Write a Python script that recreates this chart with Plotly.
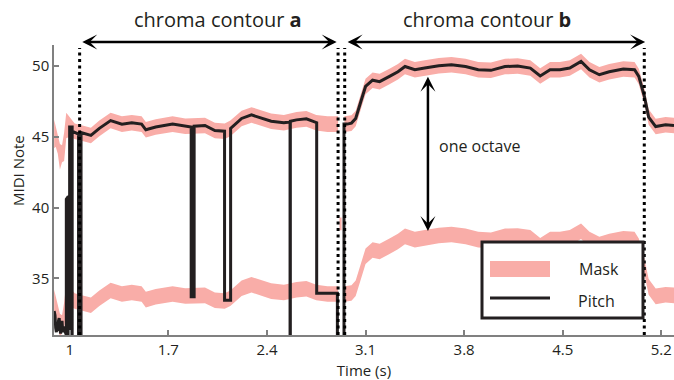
import plotly.graph_objects as go

# ---------------- data ----------------
# Pitch contour (time in s, MIDI note); repeated times draw the octave drops
pitch_t = [0.889, 0.895, 0.900, 0.905, 0.910, 0.915, 0.920, 0.925, 0.930, 0.935,
           0.940, 0.945, 0.950, 0.958, 0.965, 0.9755, 0.9755, 0.9895, 0.9895, 0.999,
           0.999, 1.017, 1.017, 1.017, 1.062, 1.062, 1.080, 1.080, 1.15, 1.21,
           1.29, 1.37, 1.44, 1.51, 1.54, 1.61, 1.73, 1.82, 1.862, 1.862,
           1.883, 1.883, 1.96, 2.03, 2.099, 2.099, 2.142, 2.142, 2.22, 2.29,
           2.36, 2.43, 2.52, 2.564, 2.564, 2.566, 2.566, 2.61, 2.68, 2.753,
           2.753, 2.900, 2.900, 2.947, 2.947, 2.97, 3.00, 3.03, 3.07, 3.10,
           3.15, 3.20, 3.27, 3.33, 3.38, 3.45, 3.52, 3.62, 3.71, 3.81,
           3.90, 3.99, 4.09, 4.18, 4.27, 4.34, 4.41, 4.48, 4.55, 4.63,
           4.69, 4.76, 4.83, 4.93, 5.01, 5.04, 5.08, 5.11, 5.16, 5.23, 5.29]
pitch_v = [32.7, 32.4, 31.5, 31.2, 31.8, 31.3, 32.0, 32.2, 31.4, 31.1,
           31.7, 32.0, 31.2, 31.6, 31.3, 31.0, 40.6, 40.8, 30.5, 30.5,
           45.7, 45.7, 30.5, 45.4, 45.2, 30.5, 30.5, 45.3, 45.1, 45.6,
           46.15, 45.9, 46.0, 45.9, 45.5, 45.7, 45.9, 45.75, 45.7, 33.7,
           33.7, 45.75, 45.8, 45.45, 45.4, 33.45, 33.45, 45.6, 46.3, 46.55,
           46.3, 46.1, 46.0, 46.05, 30.0, 30.0, 46.1, 46.2, 46.27, 46.0,
           33.95, 33.95, 30.0, 30.0, 45.9, 45.9, 45.97, 46.3, 47.6, 48.56,
           49.0, 48.9, 49.27, 49.6, 49.97, 49.74, 49.86, 50.03, 50.1, 49.97,
           49.74, 49.7, 49.97, 50.0, 49.86, 49.3, 49.74, 49.74, 49.86, 50.33,
           49.74, 49.39, 49.6, 49.8, 49.74, 49.27, 47.85, 46.4, 45.73, 45.85, 45.8]

# Chroma mask (upper band centre and half width); the band repeats one octave lower
mask_a_t = [0.889, 0.900, 0.915, 0.930, 0.945, 0.960, 0.975, 1.000, 1.035, 1.07,
            1.15, 1.21, 1.29, 1.37, 1.44, 1.51, 1.54, 1.61, 1.73, 1.82,
            1.96, 2.03, 2.10, 2.14, 2.22, 2.29, 2.36, 2.43, 2.52, 2.61,
            2.68, 2.75, 2.83, 2.905]
mask_a_c = [45.2, 45.0, 44.5, 43.6, 43.8, 44.3, 45.8, 45.7, 45.4, 45.3,
            45.1, 45.6, 46.15, 45.9, 46.0, 45.9, 45.5, 45.7, 45.9, 45.75,
            45.8, 45.45, 45.4, 45.6, 46.3, 46.55, 46.3, 46.1, 46.0, 46.2,
            46.27, 46.0, 45.9, 45.9]
mask_a_w = [1.0, 0.7, 0.7, 0.9, 0.6, 1.0, 0.9, 0.7, 0.55, 0.55,
            0.55, 0.55, 0.55, 0.55, 0.55, 0.55, 0.55, 0.55, 0.55, 0.55,
            0.55, 0.55, 0.55, 0.55, 0.55, 0.55, 0.55, 0.55, 0.55, 0.55,
            0.55, 0.55, 0.55, 0.55]
mask_b_t = [2.95, 3.00, 3.03, 3.07, 3.10, 3.15, 3.20, 3.27, 3.33, 3.38,
            3.45, 3.52, 3.62, 3.71, 3.81, 3.90, 3.99, 4.09, 4.18, 4.27,
            4.34, 4.41, 4.48, 4.55, 4.63, 4.69, 4.76, 4.83, 4.93, 5.01,
            5.04, 5.08, 5.11, 5.16, 5.23, 5.29]
mask_b_c = [45.9, 45.97, 46.3, 47.6, 48.56, 49.0, 48.9, 49.27, 49.6, 49.97,
            49.74, 49.86, 50.03, 50.1, 49.97, 49.74, 49.7, 49.97, 50.0, 49.86,
            49.3, 49.74, 49.74, 49.86, 50.33, 49.74, 49.39, 49.6, 49.8, 49.74,
            49.27, 47.85, 46.4, 45.73, 45.85, 45.8]
mask_b_w = 0.55
octave = 12
blob_t = [2.915, 2.93]
blob_lo = [38.4, 38.4]
blob_hi = [39.3, 39.3]

boundaries = [1.07, 2.905, 2.952, 5.079]
contour_a = [1.078, 2.895]
contour_b = [2.962, 5.085]
octave_arrow_t = 3.543
octave_arrow_v = [49.25, 38.25]

x_ticks = [1, 1.7, 2.4, 3.1, 3.8, 4.5, 5.2]
x_tick_labels = ["1", "1.7", "2.4", "3.1", "3.8", "4.5", "5.2"]
y_ticks = [35, 40, 45, 50]

PINK = "#F9ADA8"
INK = "#231F20"
GREY = "#808080"
FONT = "Open Sans"

fig = go.Figure()


def band(ts, cs, ws, shift):
    if not isinstance(ws, list):
        ws = [ws] * len(ts)
    hi = [c + w - shift for c, w in zip(cs, ws)]
    lo = [c - w - shift for c, w in zip(cs, ws)]
    return ts + ts[::-1], hi + lo[::-1]


for ts, cs, ws in [(mask_a_t, mask_a_c, mask_a_w), (mask_b_t, mask_b_c, mask_b_w)]:
    for shift in (0, octave):
        bx, by = band(ts, cs, ws, shift)
        fig.add_trace(go.Scatter(x=bx, y=by, mode="lines", fill="toself",
                                 fillcolor=PINK, line=dict(width=0, color=PINK),
                                 showlegend=False, hoverinfo="skip"))

fig.add_trace(go.Scatter(x=blob_t + blob_t[::-1], y=blob_hi + blob_lo[::-1],
                         mode="lines", fill="toself", fillcolor=PINK,
                         line=dict(width=0, color=PINK), showlegend=False,
                         hoverinfo="skip"))

fig.add_trace(go.Scatter(x=pitch_t, y=pitch_v, mode="lines",
                         line=dict(color=INK, width=3), showlegend=False,
                         name="Pitch"))

# dotted segment boundaries
for b in boundaries:
    fig.add_shape(type="line", xref="x", yref="y", x0=b, x1=b, y0=31, y1=51.28,
                  line=dict(color="black", width=3, dash="3px,3.5px"))


def px(x):
    return (x - 54) / 620


def py(y):
    return (335 - y) / 290


# double arrows
def dbl_arrow(x0, y0, x1, y1, yref):
    fig.add_annotation(x=x1, y=y1, ax=x0, ay=y0, xref="x", yref=yref,
                       axref="x", ayref=yref, text="", showarrow=True,
                       arrowhead=3, startarrowhead=3, arrowside="end+start",
                       arrowwidth=2.5, arrowsize=1.0, startarrowsize=1.0,
                       arrowcolor="black", standoff=0, startstandoff=0)

dbl_arrow(contour_a[0], py(42), contour_a[1], py(42), "y domain")
dbl_arrow(contour_b[0], py(42), contour_b[1], py(42), "y domain")
dbl_arrow(octave_arrow_t, octave_arrow_v[1], octave_arrow_t, octave_arrow_v[0], "y")

fig.add_annotation(x=px(217.5), y=py(20), xref="paper", yref="paper",
                   text="chroma contour <b>a</b>", showarrow=False,
                   font=dict(family=FONT, size=20, color=INK),
                   xanchor="center", yanchor="middle")
fig.add_annotation(x=px(487), y=py(20), xref="paper", yref="paper",
                   text="chroma contour <b>b</b>", showarrow=False,
                   font=dict(family=FONT, size=20, color=INK),
                   xanchor="center", yanchor="middle")
fig.add_annotation(x=px(437), y=py(146), xref="paper", yref="paper",
                   text="one octave", showarrow=False,
                   font=dict(family=FONT, size=16, color=INK),
                   xanchor="left", yanchor="middle")
# y axis title
fig.add_annotation(x=px(18), y=py(171), xref="paper", yref="paper",
                   text="MIDI Note", showarrow=False, textangle=-90,
                   xanchor="center", yanchor="middle",
                   font=dict(family=FONT, size=15, color=INK))

# legend box
fig.add_shape(type="rect", xref="paper", yref="paper", x0=px(482), x1=px(643),
              y0=py(318), y1=py(242), line=dict(color=INK, width=3),
              fillcolor="white", layer="above")
fig.add_shape(type="rect", xref="paper", yref="paper", x0=px(490), x1=px(550),
              y0=py(277), y1=py(261), line=dict(width=0), fillcolor=PINK,
              layer="above")
fig.add_shape(type="line", xref="paper", yref="paper", x0=px(490), x1=px(550),
              y0=py(298), y1=py(298), line=dict(color=INK, width=3), layer="above")
fig.add_annotation(x=px(577), y=py(269), xref="paper", yref="paper", text="Mask",
                   showarrow=False, xanchor="left", yanchor="middle",
                   font=dict(family=FONT, size=16, color=INK))
fig.add_annotation(x=px(576), y=py(301), xref="paper", yref="paper", text="Pitch",
                   showarrow=False, xanchor="left", yanchor="middle",
                   font=dict(family=FONT, size=16, color=INK))

fig.update_layout(
    width=674, height=380,
    margin=dict(l=54, r=0, t=45, b=45, autoexpand=False),
    paper_bgcolor="white", plot_bgcolor="white",
    font=dict(family=FONT, color=INK, size=15),
    xaxis=dict(range=[0.888, 5.29], tickvals=x_ticks, ticktext=x_tick_labels,
               showgrid=False, zeroline=False, showline=True, linecolor=GREY,
               linewidth=1.5, ticks="inside", ticklen=5, tickcolor=GREY,
               tickwidth=1.5, tickfont=dict(size=15, color=INK),
               title=dict(text="Time (s)", font=dict(size=15, color=INK), standoff=9)),
    yaxis=dict(range=[31, 51.49], tickvals=y_ticks, showgrid=False, zeroline=False,
               showline=True, linecolor=GREY, linewidth=1.5, ticks="inside",
               ticklen=5, tickcolor=GREY, tickwidth=1.5,
               tickfont=dict(size=15, color=INK)),
)

fig.write_html("out.html")
